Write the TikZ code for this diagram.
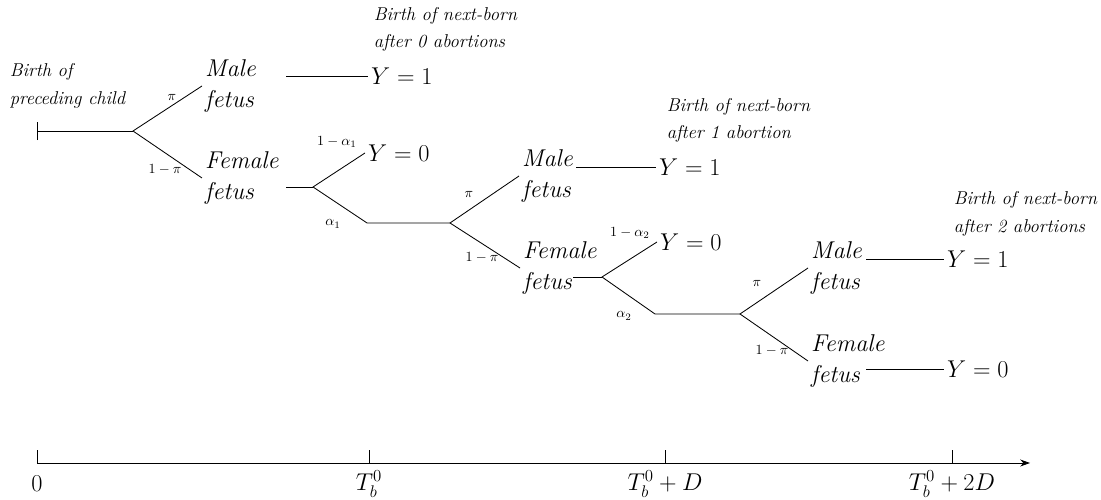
\documentclass[tikz,border=0pt]{standalone}
\usepackage{amsmath,amssymb}
\usepackage{tikz}
\usetikzlibrary{arrows.meta}
\tikzset{
  fetus/.style={anchor=west,inner sep=2pt,font=\LARGE\itshape,align=left},
  outcome/.style={anchor=west,inner sep=2pt,font=\LARGE},
  caption/.style={anchor=west,inner sep=1pt,font=\fontsize{13.2}{19.5}\selectfont\itshape,align=left},
  prob/.style={inner sep=0pt,font=\normalsize},
}

\begin{document}
\begin{tikzpicture}[line width=0.6pt,line join=round]
  \useasboundingbox (0,0) rectangle (27.525,12.5);
  % first pregnancy
  \coordinate (S) at (0.925,9.225); \coordinate (B0) at (3.325,9.225);
  \coordinate (M1) at (5.05,10.35); \coordinate (F1) at (5.05,8.05);
  \draw[{Bar[width=13pt]}-] (S) -- (B0);
  \draw (M1) -- (B0) -- (F1);
  \node[fetus] (m1) at (M1) {Male\\fetus}; \node[fetus] (f1) at (F1) {Female\\fetus};
  \node[prob] (p1) at (4.3,10.075) {$\pi$}; \node[prob] (q1) at (4.125,8.25) {$1-\pi$};
  \coordinate (L1) at (7.15,10.6); \node[outcome] (y1a) at (9.2,10.6) {$Y=1$};
  \draw (L1) -- (y1a);
  \node[caption] (c0) at (0.2,10.35) {Birth of\\preceding child};
  \node[caption] (c1) at (9.3,11.76) {Birth of next-born\\after 0 abortions};
  % first abortion decision
  \coordinate (L2) at (7.15,7.825); \coordinate (B1) at (7.825,7.825);
  \coordinate (A1) at (9.125,8.675); \coordinate (D1) at (9.175,6.925);
  \coordinate (B2) at (11.25,6.925);
  \draw (L2) -- (B1); \draw (A1) -- (B1) -- (D1) -- (B2);
  \node[outcome] (y0a) at (A1) {$Y=0$};
  \node[prob] (r1) at (8.425,8.95) {$1-\alpha_1$}; \node[prob] (s1) at (8.325,6.9) {$\alpha_1$};
  % second pregnancy
  \coordinate (M2) at (12.975,8.1); \coordinate (F2) at (13.0,5.8);
  \draw (M2) -- (B2) -- (F2);
  \node[fetus] (m2) at (M2) {Male\\fetus}; \node[fetus] (f2) at (F2) {Female\\fetus};
  \node[prob] (p2) at (11.725,7.65) {$\pi$}; \node[prob] (q2) at (12.05,6.05) {$1-\pi$};
  \coordinate (L3) at (14.4,8.325); \node[outcome] (y1b) at (16.4,8.325) {$Y=1$};
  \draw (L3) -- (y1b);
  \node[caption] (c2) at (16.625,9.49) {Birth of next-born\\after 1 abortion};
  % second abortion decision
  \coordinate (L4) at (14.325,5.575); \coordinate (B3) at (15.05,5.575);
  \coordinate (A2) at (16.425,6.45); \coordinate (D2) at (16.375,4.65);
  \coordinate (B4) at (18.5,4.65);
  \draw (L4) -- (B3); \draw (A2) -- (B3) -- (D2) -- (B4);
  \node[outcome] (y0b) at (A2) {$Y=0$};
  \node[prob] (r2) at (15.75,6.675) {$1-\alpha_2$}; \node[prob] (s2) at (15.6,4.6) {$\alpha_2$};
  % third pregnancy
  \coordinate (M3) at (20.2,5.8); \coordinate (F3) at (20.2,3.475);
  \draw (M3) -- (B4) -- (F3);
  \node[fetus] (m3) at (M3) {Male\\fetus}; \node[fetus] (f3) at (F3) {Female\\fetus};
  \node[prob] (p3) at (18.925,5.425) {$\pi$}; \node[prob] (q3) at (19.3,3.725) {$1-\pi$};
  \coordinate (L5) at (21.65,6.025); \node[outcome] (y1c) at (23.6,6.025) {$Y=1$};
  \coordinate (L6) at (21.65,3.275); \node[outcome] (y0c) at (23.6,3.275) {$Y=0$};
  \draw (L5) -- (y1c); \draw (L6) -- (y0c);
  \node[caption] (c3) at (23.8,7.15) {Birth of next-born\\after 2 abortions};
  % time axis
  \coordinate (O) at (0.925,0.925); \coordinate (E) at (25.75,0.925);
  \draw[-{Stealth[length=7pt,width=5pt]}] (O) -- (E);
  \foreach \x/\n/\t in {0.925/t0/0,9.225/t1/T_b^0,16.625/t2/T_b^0+D,23.8/t3/T_b^0+2D} {
    \draw (\x,0.925) -- (\x,1.25);
    \node[font=\LARGE] (\n) at (\x,0.4) {$\t$};
  }
\end{tikzpicture}
\end{document}
